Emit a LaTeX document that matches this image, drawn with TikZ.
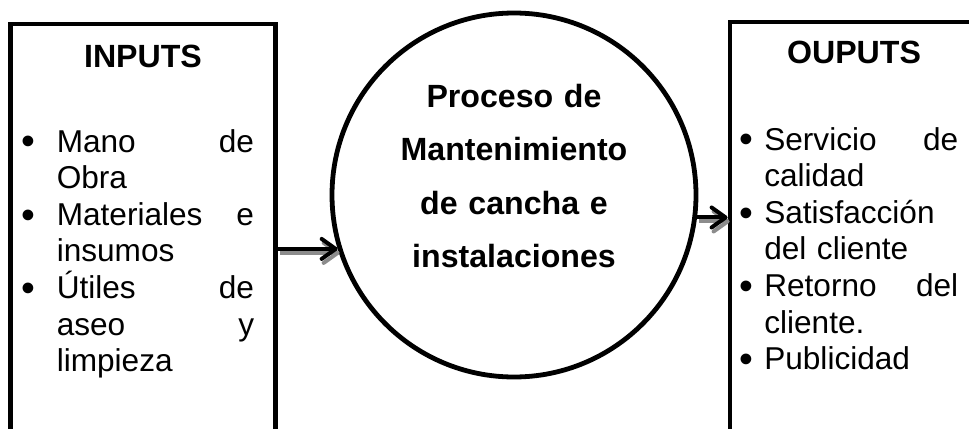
\documentclass[tikz,border=0pt]{standalone}
\usepackage{fontspec}
\setmainfont{Liberation Sans}
\usetikzlibrary{arrows.meta,positioning}
\newcommand{\listbullet}[1]{\leavevmode\llap{{\fontsize{29.6}{29.6}\selectfont\raisebox{-2.1pt}{\textbullet}}\hspace{#1}}}
\tikzset{
  sidebox/.style={draw, rectangle, line width=3.6pt, inner sep=0pt, anchor=north west},
  procnode/.style={draw, circle, line width=3.6pt, minimum size=273pt, inner sep=0pt},
  heading/.style={font=\bfseries\fontsize{24.1}{27.5}\selectfont, anchor=base},
  itemlist/.style={font=\fontsize{23.7}{27.45}\selectfont, align=left, inner sep=0pt, anchor=north west},
  proctext/.style={font=\bfseries\fontsize{24.1}{40}\selectfont, align=center, text width=210pt, inner sep=0pt, anchor=north},
  flow/.style={line width=3pt, -{Straight Barb[length=10.5pt,width=15pt,round]}},
  flowshadow/.style={flow, draw=black!45, transform canvas={xshift=1.5pt,yshift=-3pt}}
}
\begin{document}
\begin{tikzpicture}[x=0.75pt,y=-0.75pt]
\useasboundingbox (0,0) rectangle (969,428);
\clip (0,0) rectangle (969,428);
% boxes and process
\node[sidebox, minimum width=199pt, minimum height=312pt] (inbox) at (8.1,21.6) {};
\node[sidebox, minimum width=186pt, minimum height=313.5pt] (outbox) at (727.6,19.6) {};
\node[procnode] (proc) at (514,195) {};
% texts
\node[heading] (intitle) at (143,67) {INPUTS};
\node[heading] (outtitle) at (854,64) {OUPUTS};
\node[itemlist, text width=148pt] (inlist) at (56.5,129) {%
  \listbullet{16pt}Mano\hfill de\\
  Obra\\
  \listbullet{16pt}Materiales\hfill e\\
  insumos\\
  \listbullet{16pt}Útiles\hfill de\\
  aseo\hfill y\\
  limpieza};
\node[itemlist, text width=145.5pt] (outlist) at (764,127) {%
  \listbullet{8.5pt}Servicio\hfill de\\
  calidad\\
  \listbullet{8.5pt}Satisfacción\\
  del cliente\\
  \listbullet{8.5pt}Retorno\hfill del\\
  cliente.\\
  \listbullet{8.5pt}Publicidad};
\node[proctext] (proclabel) at (514,84) {Proceso de\\Mantenimiento\\de cancha e\\instalaciones};
% arrows
\draw[flowshadow] (inbox.east |- proc.197) -- (proc.197);
\draw[flow] (inbox.east |- proc.197) -- (proc.197);
\draw[flowshadow] (proc.-7) -- (proc.-7 -| outbox.west);
\draw[flow] (proc.-7) -- (proc.-7 -| outbox.west);
\end{tikzpicture}
\end{document}
